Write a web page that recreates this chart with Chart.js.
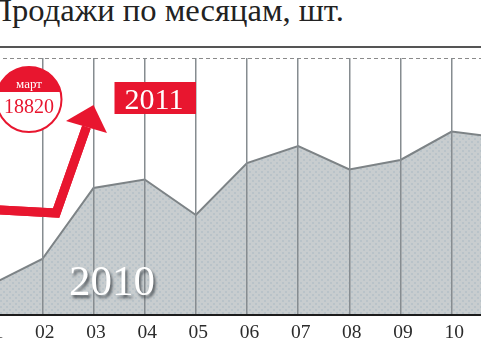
<!DOCTYPE html>
<html>
<head>
<meta charset="utf-8">
<script src="https://cdn.jsdelivr.net/npm/chart.js@4"></script>
<style>
  html, body { margin: 0; background: #fff; width: 481px; height: 351px; overflow: hidden; }
  #title { position: absolute; left: -11.5px; top: -8.5px; font: 32.6px "Liberation Serif", serif; color: #222; white-space: nowrap; }
  #rule { position: absolute; left: 0; top: 46px; width: 481px; height: 2px; background: #555; }
  #chart { position: absolute; left: -60px; top: 0; }
</style>
</head>
<body>
<div id="title">Продажи по месяцам, шт.</div>
<div id="rule"></div>
<canvas id="chart" width="614" height="351"></canvas>
<script>
// 0 and 12 only stretch the axis past the window edges
const monthLabels = ["", "01", "02", "03", "04", "05", "06", "07", "08", "09", "10", "11", ""];
const months2010 = [1, 2, 3, 4, 5, 6, 7, 8, 9, 10, 11];
const sales2010 = [2730, 5020, 11380, 12140, 8960, 13620, 15140, 13040, 13890, 16440, 15860];
const arrowMonths = [1, 2.27, 2.862];
const arrowValues = [9450, 9140, 16845];
const headMonths = [2.462, 3, 3.263];
const headValues = [17380, 18820, 16310];
const yMax = 23030;

const red = "#e8162f";

function dotPattern() {
  const tile = document.createElement("canvas");
  tile.width = 6;
  tile.height = 6;
  const c = tile.getContext("2d");
  c.fillStyle = "#c8cdcf";
  c.fillRect(0, 0, 6, 6);
  c.fillStyle = "#b9c3c9";
  c.fillRect(0, 0, 2, 2);
  c.fillRect(3, 3, 2, 2);
  return c.createPattern(tile, "repeat");
}

const overlay = {
  id: "overlay",
  afterDraw(chart) {
    const { ctx, scales } = chart;
    const ox = 60; // canvas sits 60px left of the window

    // red arrow goes above the grid lines
    chart.getDatasetMeta(1).dataset.draw(ctx, chart.chartArea);
    ctx.save();
    ctx.fillStyle = red;
    ctx.beginPath();
    headMonths.forEach((m, i) => {
      ctx.lineTo(scales.x.getPixelForValue(m), scales.y.getPixelForValue(headValues[i]));
    });
    ctx.closePath();
    ctx.fill();

    // callout
    const cx = 29 + ox, cy = 99.5, r = 32.5;
    ctx.beginPath();
    ctx.arc(cx, cy, r, 0, Math.PI * 2);
    ctx.fillStyle = "#fff";
    ctx.fill();
    const a = Math.asin(7.5 / r);
    ctx.beginPath();
    ctx.arc(cx, cy, r, Math.PI + a, -a);
    ctx.closePath();
    ctx.fillStyle = red;
    ctx.fill();
    ctx.beginPath();
    ctx.arc(cx, cy, r, 0, Math.PI * 2);
    ctx.strokeStyle = red;
    ctx.lineWidth = 2;
    ctx.stroke();

    ctx.textAlign = "center";
    ctx.textBaseline = "alphabetic";
    ctx.fillStyle = "#fff";
    ctx.font = '13px "Liberation Serif", serif';
    ctx.fillText("март", cx, 88);
    ctx.fillStyle = red;
    ctx.font = '20px "Liberation Serif", serif';
    ctx.fillText("18820", cx, 113);

    // 2011 tag
    ctx.fillStyle = red;
    ctx.fillRect(114.5 + ox, 82, 81.5, 32);
    ctx.fillStyle = "#fff";
    ctx.font = '30px "Liberation Serif", serif';
    ctx.fillText("2011", 154 + ox, 109);

    // 2010 caption
    ctx.shadowColor = "rgba(60,65,70,0.8)";
    ctx.shadowBlur = 3;
    ctx.shadowOffsetX = 2;
    ctx.shadowOffsetY = 3;
    ctx.font = '43px "Liberation Serif", serif';
    ctx.fillText("2010", 112 + ox, 295);
    ctx.restore();
  }
};

new Chart(document.getElementById("chart"), {
  type: "line",
  data: {
    datasets: [
      {
        label: "2010",
        data: months2010.map((m, i) => ({ x: m, y: sales2010[i] })),
        borderColor: "#7d8386",
        borderWidth: 2,
        backgroundColor: dotPattern(),
        fill: "origin",
        pointRadius: 0,
        tension: 0,
      },
      {
        label: "2011",
        data: arrowMonths.map((m, i) => ({ x: m, y: arrowValues[i] })),
        borderColor: red,
        borderWidth: 9,
        borderJoinStyle: "miter",
        fill: false,
        pointRadius: 0,
        tension: 0,
      },
    ],
  },
  options: {
    responsive: false,
    animation: false,
    layout: { padding: { top: 58, left: 0, right: 0, bottom: 0 } },
    plugins: { legend: { display: false }, tooltip: { enabled: false } },
    scales: {
      x: {
        type: "linear",
        min: 0,
        max: 12,
        afterBuildTicks(axis) {
          axis.ticks = monthLabels.map((_, i) => ({ value: i }));
        },
        afterFit(axis) {
          axis.height = 36;
          axis.paddingLeft = 0;
          axis.paddingRight = 0;
        },
        grid: { z: 1, color: "#868c90", lineWidth: 1.5, tickLength: 6, tickColor: "transparent" },
        border: { color: "#1c1c1c", width: 2, z: 2 },
        ticks: {
          autoSkip: false,
          maxRotation: 0,
          padding: 0,
          labelOffset: 2.5,
          color: "#2b2b2b",
          font: { family: '"Liberation Serif", serif', size: 19.5 },
          callback: (v) => monthLabels[v],
        },
      },
      y: {
        min: 0,
        max: yMax,
        afterBuildTicks(axis) {
          axis.ticks = [{ value: yMax }];
        },
        afterFit(axis) {
          axis.width = 0;
        },
        grid: { color: "#8a8a8a", lineWidth: 1, drawTicks: false },
        border: { display: false, dash: [4, 3] },
        ticks: { display: false },
      },
    },
  },
  plugins: [overlay],
});
</script>
</body>
</html>
